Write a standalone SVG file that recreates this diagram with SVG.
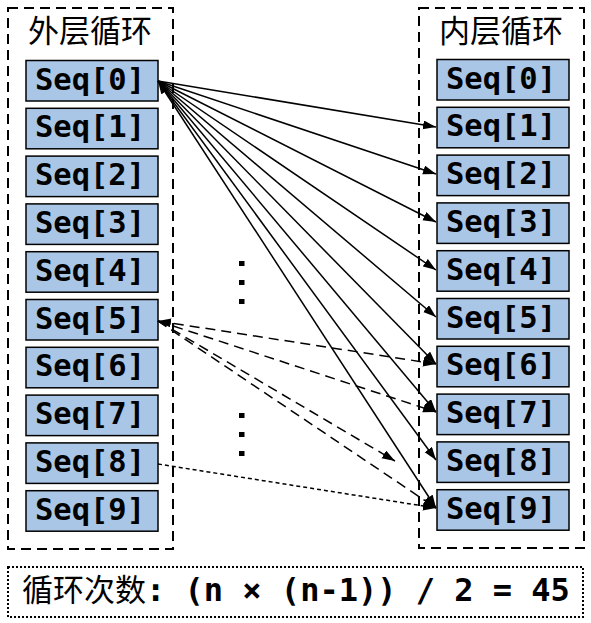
<svg xmlns="http://www.w3.org/2000/svg" width="591" height="623" viewBox="0 0 591 623">
<style>
.frame{fill:none;stroke:#000;stroke-width:2;stroke-dasharray:10 6}
.bottom{fill:none;stroke:#000;stroke-width:2;stroke-dasharray:2 2}
.node{fill:#a9c6e6;stroke:#000;stroke-width:1.5}
.lbl{font-family:"DejaVu Sans Mono","Liberation Mono",monospace;font-weight:bold;font-size:30.5px;fill:#000;text-anchor:middle}
.title{font-family:"Noto Sans CJK SC","Noto Sans",sans-serif;font-size:31px;fill:#000;text-anchor:middle}
.solid{fill:none;stroke:#000;stroke-width:1.5;marker-end:url(#ah)}
.dash{fill:none;stroke:#000;stroke-width:1.5;stroke-dasharray:10 6;marker-end:url(#ah)}
.dot{fill:none;stroke:#000;stroke-width:1.5;stroke-dasharray:4 3;marker-end:url(#ah)}
.ell{fill:#000}
</style>
<defs>
<marker id="ah" markerUnits="userSpaceOnUse" markerWidth="14" markerHeight="10" refX="13" refY="4.5" orient="auto-start-reverse" viewBox="0 0 14 10">
<path d="M0,0 L13,4.5 L0,9 z" fill="#000"/>
</marker>
</defs>
<g id="outer-frame">
<rect class="frame" x="8" y="8" width="165" height="541"/>
<text class="title" x="90" y="42">外层循环</text>
</g>
<g id="inner-frame">
<rect class="frame" x="419" y="8" width="165" height="540"/>
<text class="title" x="501" y="42">内层循环</text>
</g>
<g id="outer-nodes">
<g id="o0"><rect class="node" x="26" y="60.5" width="132" height="40.5"/><text class="lbl" x="90" y="89.5">Seq[0]</text></g>
<g id="o1"><rect class="node" x="26" y="108.3" width="132" height="40.5"/><text class="lbl" x="90" y="137.3">Seq[1]</text></g>
<g id="o2"><rect class="node" x="26" y="156.1" width="132" height="40.5"/><text class="lbl" x="90" y="185.1">Seq[2]</text></g>
<g id="o3"><rect class="node" x="26" y="203.9" width="132" height="40.5"/><text class="lbl" x="90" y="232.9">Seq[3]</text></g>
<g id="o4"><rect class="node" x="26" y="251.7" width="132" height="40.5"/><text class="lbl" x="90" y="280.7">Seq[4]</text></g>
<g id="o5"><rect class="node" x="26" y="299.5" width="132" height="40.5"/><text class="lbl" x="90" y="328.5">Seq[5]</text></g>
<g id="o6"><rect class="node" x="26" y="347.3" width="132" height="40.5"/><text class="lbl" x="90" y="376.3">Seq[6]</text></g>
<g id="o7"><rect class="node" x="26" y="395.1" width="132" height="40.5"/><text class="lbl" x="90" y="424.1">Seq[7]</text></g>
<g id="o8"><rect class="node" x="26" y="442.9" width="132" height="40.5"/><text class="lbl" x="90" y="471.9">Seq[8]</text></g>
<g id="o9"><rect class="node" x="26" y="490.7" width="132" height="40.5"/><text class="lbl" x="90" y="519.7">Seq[9]</text></g>
</g>
<g id="inner-nodes">
<g id="i0"><rect class="node" x="437" y="59.5" width="132" height="40.5"/><text class="lbl" x="501" y="88.5">Seq[0]</text></g>
<g id="i1"><rect class="node" x="437" y="107.3" width="132" height="40.5"/><text class="lbl" x="501" y="136.3">Seq[1]</text></g>
<g id="i2"><rect class="node" x="437" y="155.1" width="132" height="40.5"/><text class="lbl" x="501" y="184.1">Seq[2]</text></g>
<g id="i3"><rect class="node" x="437" y="202.9" width="132" height="40.5"/><text class="lbl" x="501" y="231.9">Seq[3]</text></g>
<g id="i4"><rect class="node" x="437" y="250.7" width="132" height="40.5"/><text class="lbl" x="501" y="279.7">Seq[4]</text></g>
<g id="i5"><rect class="node" x="437" y="298.5" width="132" height="40.5"/><text class="lbl" x="501" y="327.5">Seq[5]</text></g>
<g id="i6"><rect class="node" x="437" y="346.3" width="132" height="40.5"/><text class="lbl" x="501" y="375.3">Seq[6]</text></g>
<g id="i7"><rect class="node" x="437" y="394.1" width="132" height="40.5"/><text class="lbl" x="501" y="423.1">Seq[7]</text></g>
<g id="i8"><rect class="node" x="437" y="441.9" width="132" height="40.5"/><text class="lbl" x="501" y="470.9">Seq[8]</text></g>
<g id="i9"><rect class="node" x="437" y="489.7" width="132" height="40.5"/><text class="lbl" x="501" y="518.7">Seq[9]</text></g>
</g>
<g id="connectors">
<line class="solid" x1="158" y1="81" x2="436" y2="127"/>
<line class="solid" x1="158" y1="81" x2="436" y2="174"/>
<line class="solid" x1="158" y1="81" x2="436" y2="222"/>
<line class="solid" x1="158" y1="81" x2="436" y2="270"/>
<line class="solid" x1="158" y1="81" x2="436" y2="317"/>
<line class="solid" x1="158" y1="81" x2="436" y2="364"/>
<line class="solid" x1="158" y1="81" x2="436" y2="412"/>
<line class="solid" x1="158" y1="81" x2="436" y2="460"/>
<line class="solid" x1="158" y1="81" x2="436" y2="508" marker-start="url(#ah)"/>
<line class="dash" x1="158" y1="321" x2="436" y2="364" marker-start="url(#ah)"/>
<line class="dash" x1="158" y1="321" x2="436" y2="412"/>
<line class="dash" x1="158" y1="321" x2="395" y2="461"/>
<line class="dash" x1="158" y1="321" x2="436" y2="508"/>
<line class="dot" x1="158" y1="464" x2="436" y2="508"/>
</g>
<g id="ellipsis">
<rect class="ell" x="239" y="261" width="5.5" height="5"/>
<rect class="ell" x="239" y="280" width="5.5" height="5"/>
<rect class="ell" x="239" y="299" width="5.5" height="5"/>
<rect class="ell" x="239" y="413" width="5.5" height="5"/>
<rect class="ell" x="239" y="432" width="5.5" height="5"/>
<rect class="ell" x="239" y="451" width="5.5" height="5"/>
</g>
<g id="formula">
<rect class="bottom" x="8" y="567" width="575" height="50"/>
<text x="22" y="601" font-size="31" fill="#000"><tspan font-family="Noto Sans CJK SC, sans-serif">循环次数</tspan><tspan font-family="DejaVu Sans Mono, Liberation Mono, monospace" font-weight="bold" font-size="32">: (n × (n-1)) / 2 = 45</tspan></text>
</g>
</svg>
